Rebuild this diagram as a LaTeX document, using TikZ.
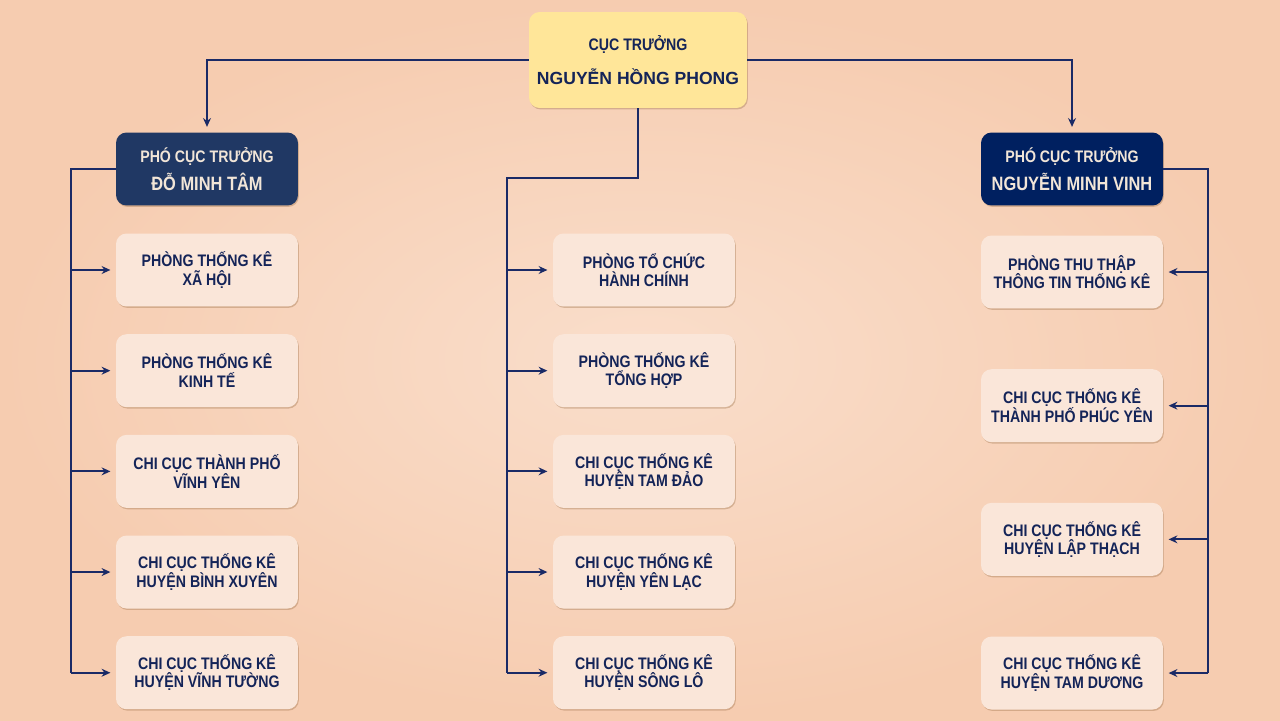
\documentclass[tikz,border=0pt]{standalone}
\usepackage{fontspec}
\setmainfont{Liberation Sans}[FakeStretch=0.85]
\newfontfamily\namefont{Liberation Sans}
\usetikzlibrary{positioning, arrows.meta, shadows}

\definecolor{bgout}{RGB}{246,204,176}
\definecolor{bgin}{RGB}{250,222,203}
\definecolor{boxfill}{RGB}{250,230,217}
\definecolor{headfill}{RGB}{255,230,153}
\definecolor{deputyA}{RGB}{32,56,100}
\definecolor{deputyB}{RGB}{0,32,96}
\definecolor{ink}{RGB}{20,36,88}
\definecolor{wire}{RGB}{26,42,102}
\definecolor{cream}{RGB}{242,230,216}

\begin{document}
\begin{tikzpicture}[x=0.02cm, y=-0.02cm]
    \tikzset{
      unit/.style={
        rectangle, rounded corners=6pt,
        fill=boxfill, text=ink,
        minimum width=3.64cm, minimum height=1.46cm,
        align=center, font=\bfseries\fontsize{9.5}{10.5}\selectfont,
        drop shadow={shadow xshift=0.5pt, shadow yshift=-0.8pt, opacity=0.3, fill=brown!70!black}
      },
      deputy/.style={
        unit, text=cream, font=\bfseries\fontsize{9.5}{16}\selectfont
      },
      wire/.style={draw=wire, line width=1.1pt},
      arr/.style={wire, -{Stealth[length=5pt,width=4.5pt]}, shorten >=3pt}
    }

    % Background
    \shade[inner color=bgin, outer color=bgout] (0,0) rectangle (1280,720);
    \useasboundingbox (0,0) rectangle (1280,720);

    % Director
    \node[unit, fill=headfill, minimum width=4.36cm, minimum height=1.92cm,
          font=\bfseries\fontsize{9.5}{12}\selectfont] (head) at (638,60)
      {CỤC TRƯỞNG\\[7pt]{\namefont\fontsize{10}{12}\selectfont NGUYỄN HỒNG PHONG}};

    % Deputies
    \node[deputy, fill=deputyA] (dl) at (207,169)
      {PHÓ CỤC TRƯỞNG\\{\fontsize{11}{12}\selectfont ĐỖ MINH TÂM}};
    \node[deputy, fill=deputyB] (dr) at (1072,169)
      {PHÓ CỤC TRƯỞNG\\{\fontsize{11}{12}\selectfont NGUYỄN MINH VINH}};

    % Left column
    \begin{scope}[node distance=0.54cm]
      \node[unit] (l1) at (207,270) {PHÒNG THỐNG KÊ\\XÃ HỘI};
      \node[unit, below=of l1] (l2) {PHÒNG THỐNG KÊ\\KINH TẾ};
      \node[unit, below=of l2] (l3) {CHI CỤC THÀNH PHỐ\\VĨNH YÊN};
      \node[unit, below=of l3] (l4) {CHI CỤC THỐNG KÊ\\HUYỆN BÌNH XUYÊN};
      \node[unit, below=of l4] (l5) {CHI CỤC THỐNG KÊ\\HUYỆN VĨNH TƯỜNG};

      % Middle column
      \node[unit] (m1) at (644,270) {PHÒNG TỔ CHỨC\\HÀNH CHÍNH};
      \node[unit, below=of m1] (m2) {PHÒNG THỐNG KÊ\\TỔNG HỢP};
      \node[unit, below=of m2] (m3) {CHI CỤC THỐNG KÊ\\HUYỆN TAM ĐẢO};
      \node[unit, below=of m3] (m4) {CHI CỤC THỐNG KÊ\\HUYỆN YÊN LẠC};
      \node[unit, below=of m4] (m5) {CHI CỤC THỐNG KÊ\\HUYỆN SÔNG LÔ};
    \end{scope}

    % Right column
    \begin{scope}[node distance=1.2cm]
      \node[unit] (r1) at (1072,272) {PHÒNG THU THẬP\\THÔNG TIN THỐNG KÊ};
      \node[unit, below=of r1] (r2) {CHI CỤC THỐNG KÊ\\THÀNH PHỐ PHÚC YÊN};
      \node[unit, below=of r2] (r3) {CHI CỤC THỐNG KÊ\\HUYỆN LẬP THẠCH};
      \node[unit, below=of r3] (r4) {CHI CỤC THỐNG KÊ\\HUYỆN TAM DƯƠNG};
    \end{scope}

    % Bus points
    \coordinate (lbus) at (71,169);
    \coordinate (mbus) at (507,178);
    \coordinate (rbus) at (1208,169);

    % Director to deputies and middle column
    \draw[arr] (head.west) -| (dl.north);
    \draw[arr] (head.east) -| (dr.north);
    \draw[wire] (head.south) |- (mbus) -- (mbus |- m5.west);

    % Left branches
    \draw[wire] (dl.west) -- (lbus) -- (lbus |- l5.west);
    \foreach \n in {l1,l2,l3,l4,l5}
      \draw[arr] (lbus |- \n.west) -- (\n.west);

    % Middle branches
    \foreach \n in {m1,m2,m3,m4,m5}
      \draw[arr] (mbus |- \n.west) -- (\n.west);

    % Right branches
    \draw[wire] (dr.east) -- (rbus) -- (rbus |- r4.east);
    \foreach \n in {r1,r2,r3,r4}
      \draw[arr] (rbus |- \n.east) -- (\n.east);
  \end{tikzpicture}
\end{document}
